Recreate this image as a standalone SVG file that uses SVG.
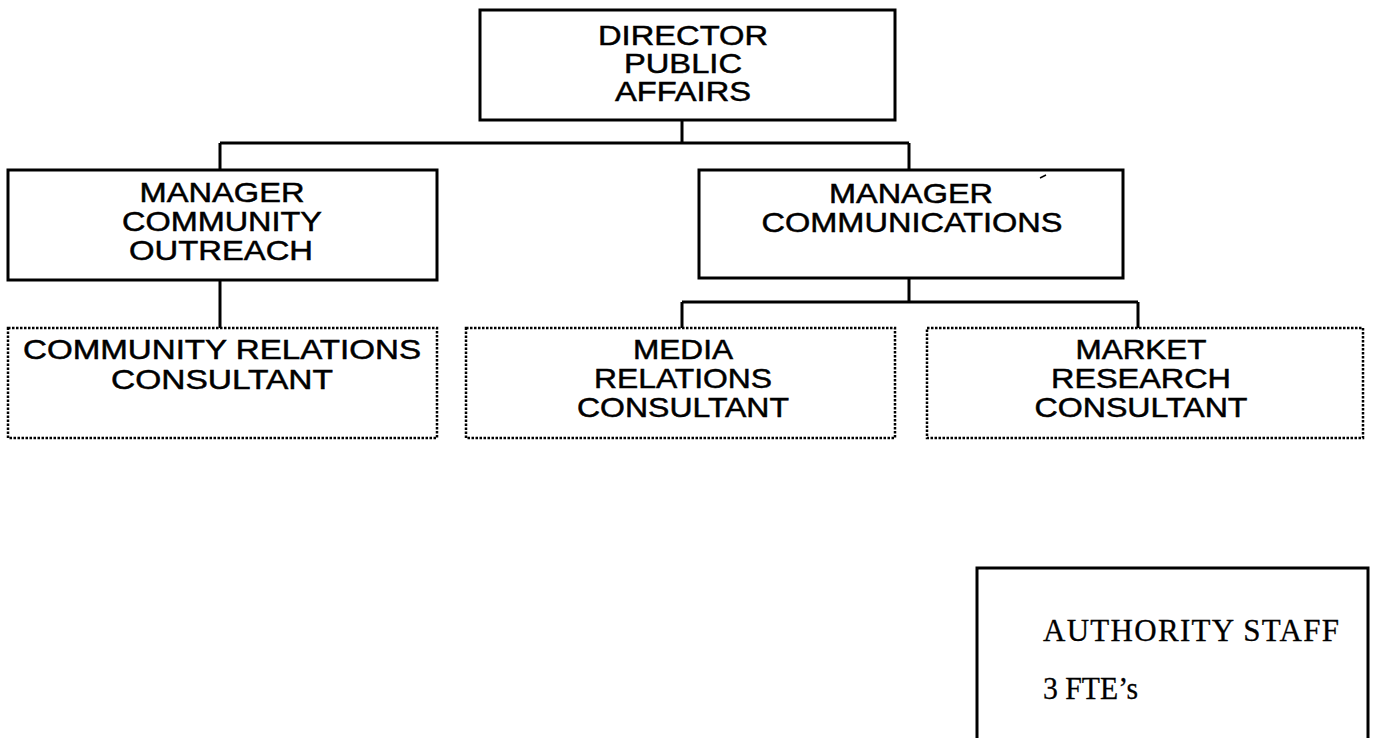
<svg xmlns="http://www.w3.org/2000/svg" width="1377" height="738" viewBox="0 0 1377 738">
  <style>
    .box { fill: #ffffff; stroke: #000000; stroke-width: 3; }
    .dot { fill: #ffffff; stroke: #000000; stroke-width: 2.5; stroke-dasharray: 2.5 1.5; }
    .wire { fill: none; stroke: #000000; stroke-width: 3; }
    .lbl { font-family: "Liberation Sans", Arial, sans-serif; font-size: 28px; fill: #000000; stroke: #000000; stroke-width: 0.5; text-anchor: middle; }
    .note { font-family: "Liberation Serif", "Times New Roman", serif; font-size: 31px; fill: #000000; stroke: #000000; stroke-width: 0.3; }
  </style>
  <rect width="1377" height="738" fill="#ffffff"/>

  <!-- reporting lines -->
  <g id="connectors">
    <path class="wire" d="M682 120 V143 M220 143 H909 M220 143 V170 M909 143 V170"/>
    <path class="wire" d="M220 280 V328"/>
    <path class="wire" d="M909 278 V302 M682 302 H1138 M682 302 V328 M1138 302 V328"/>
  </g>

  <g id="director">
    <rect class="box" x="480" y="10" width="415" height="110"/>
    <text class="lbl" x="683" y="45" textLength="170" lengthAdjust="spacingAndGlyphs">DIRECTOR</text>
    <text class="lbl" x="683" y="73" textLength="118" lengthAdjust="spacingAndGlyphs">PUBLIC</text>
    <text class="lbl" x="683" y="101" textLength="136" lengthAdjust="spacingAndGlyphs">AFFAIRS</text>
  </g>

  <g id="manager-outreach">
    <rect class="box" x="8" y="170" width="429" height="110"/>
    <text class="lbl" x="222" y="202" textLength="165" lengthAdjust="spacingAndGlyphs">MANAGER</text>
    <text class="lbl" x="222" y="231" textLength="200" lengthAdjust="spacingAndGlyphs">COMMUNITY</text>
    <text class="lbl" x="221" y="260" textLength="184" lengthAdjust="spacingAndGlyphs">OUTREACH</text>
  </g>

  <g id="manager-communications">
    <rect class="box" x="699" y="170" width="424" height="108"/>
    <text class="lbl" x="911" y="203" textLength="164" lengthAdjust="spacingAndGlyphs">MANAGER</text>
    <text class="lbl" x="912" y="232" textLength="301" lengthAdjust="spacingAndGlyphs">COMMUNICATIONS</text>
    <path d="M1040 178 L1046 175" stroke="#000" stroke-width="1.5"/>
  </g>

  <g id="community-relations">
    <rect class="dot" x="8" y="328" width="429" height="110"/>
    <text class="lbl" x="222" y="359" textLength="398" lengthAdjust="spacingAndGlyphs">COMMUNITY RELATIONS</text>
    <text class="lbl" x="222" y="389" textLength="222" lengthAdjust="spacingAndGlyphs">CONSULTANT</text>
  </g>

  <g id="media-relations">
    <rect class="dot" x="466" y="328" width="429" height="110"/>
    <text class="lbl" x="683" y="359" textLength="100" lengthAdjust="spacingAndGlyphs">MEDIA</text>
    <text class="lbl" x="683" y="388" textLength="178" lengthAdjust="spacingAndGlyphs">RELATIONS</text>
    <text class="lbl" x="683" y="417" textLength="212" lengthAdjust="spacingAndGlyphs">CONSULTANT</text>
  </g>

  <g id="market-research">
    <rect class="dot" x="927" y="328" width="436" height="110"/>
    <text class="lbl" x="1141" y="359" textLength="131" lengthAdjust="spacingAndGlyphs">MARKET</text>
    <text class="lbl" x="1141" y="388" textLength="180" lengthAdjust="spacingAndGlyphs">RESEARCH</text>
    <text class="lbl" x="1141" y="417" textLength="213" lengthAdjust="spacingAndGlyphs">CONSULTANT</text>
  </g>

  <g id="authority-staff">
    <rect class="box" x="977" y="568" width="391" height="190"/>
    <text class="note" x="1043" y="641" textLength="296" lengthAdjust="spacing">AUTHORITY STAFF</text>
    <text class="note" x="1043" y="699" textLength="95" lengthAdjust="spacingAndGlyphs">3 FTE’s</text>
  </g>
</svg>
